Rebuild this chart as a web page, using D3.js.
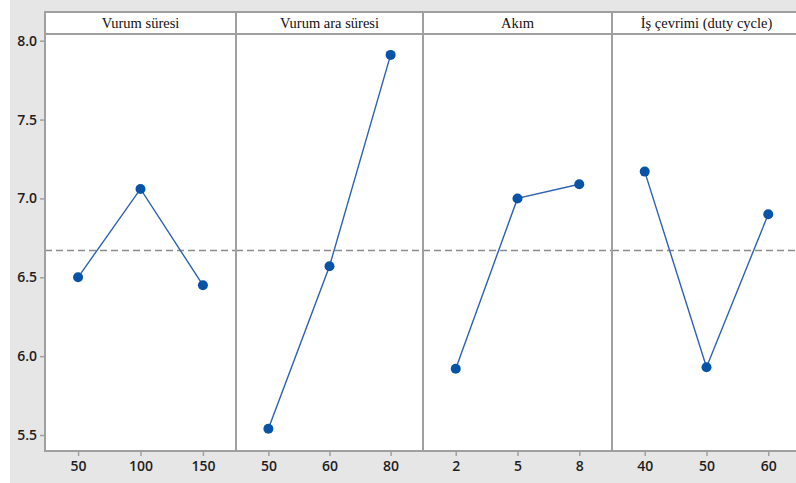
<!DOCTYPE html>
<html>
<head>
<meta charset="utf-8">
<script src="https://cdn.jsdelivr.net/npm/d3@7"></script>
<style>
  html, body { margin: 0; padding: 0; background: #ffffff; }
  svg { display: block; }
</style>
</head>
<body>
<svg id="chart" width="796" height="483"></svg>
<script>
// Main effects plot: mean response for each factor level
const factors = ["Vurum süresi", "Vurum ara süresi", "Akım", "İş çevrimi (duty cycle)"];
const levels = [
  ["50", "100", "150"],
  ["50", "60", "80"],
  ["2", "5", "8"],
  ["40", "50", "60"]
];
const means = [
  [6.50, 7.06, 6.45],
  [5.54, 6.57, 7.91],
  [5.92, 7.00, 7.09],
  [7.17, 5.93, 6.90]
];
const yTicks = [5.5, 6.0, 6.5, 7.0, 7.5, 8.0];

const svg = d3.select("#chart");
const W = 796, H = 483;

// gray canvas with a thin white strip on the left
svg.append("rect").attr("x", 0).attr("y", 0).attr("width", W).attr("height", H).attr("fill", "#ffffff");
svg.append("rect").attr("x", 10).attr("y", 0).attr("width", W - 10).attr("height", H).attr("fill", "#e6e6e6");

const plotLeft = 45, plotTopEdge = 12, headerH = 22, plotBottom = 451;
// panel edges along x
const edges = [45, 236, 423, 612, 801];
const stripBottom = plotTopEdge + headerH;

const y = d3.scaleLinear().domain([5.5, 8.0]).range([435, 40.7]);
const grandMean = d3.mean(means.flat());

const gray = "#a0a0a0";

// Y axis
const yAxis = svg.append("g").attr("transform", `translate(${plotLeft},0)`)
  .call(d3.axisLeft(y).tickValues(yTicks).tickFormat(d3.format(".1f")).tickSize(5).tickPadding(3));
yAxis.select(".domain").remove();
yAxis.selectAll("line").attr("stroke", gray).attr("stroke-width", 1.5);
yAxis.selectAll("text").attr("font-family", "'Open Sans', sans-serif").attr("font-size", 14)
  .attr("fill", "#1e1e1e").attr("font-weight", 600);

factors.forEach((name, i) => {
  const x0 = edges[i], x1 = edges[i + 1];
  const panelW = x1 - x0;
  const g = svg.append("g");

  // panel area
  g.append("rect").attr("x", x0).attr("y", plotTopEdge).attr("width", panelW).attr("height", plotBottom - plotTopEdge)
    .attr("fill", "#ffffff");

  const x = d3.scalePoint().domain(levels[i]).range([x0, x1]).padding(0.53);

  // grand mean reference line
  g.append("line").attr("x1", x0).attr("x2", x1)
    .attr("y1", y(grandMean)).attr("y2", y(grandMean))
    .attr("stroke", "#8c8c8c").attr("stroke-width", 1.5).attr("stroke-dasharray", "7,4");

  // x axis ticks
  const xa = g.append("g").attr("transform", `translate(0,${plotBottom})`)
    .call(d3.axisBottom(x).tickSize(5).tickPadding(5));
  xa.select(".domain").remove();
  xa.selectAll("line").attr("stroke", gray).attr("stroke-width", 1.5);
  xa.selectAll("text").attr("font-family", "'Open Sans', sans-serif").attr("font-size", 14)
    .attr("fill", "#1e1e1e").attr("font-weight", 600);

  // mean line and points
  const pts = levels[i].map((l, k) => [x(l), y(means[i][k])]);
  g.append("path").attr("d", d3.line()(pts)).attr("fill", "none")
    .attr("stroke", "#2c62b4").attr("stroke-width", 1.4);
  g.selectAll("circle").data(pts).join("circle")
    .attr("cx", d => d[0]).attr("cy", d => d[1]).attr("r", 5)
    .attr("fill", "#0753a8");

  // header strip
  g.append("line").attr("x1", x0).attr("x2", x1).attr("y1", stripBottom).attr("y2", stripBottom)
    .attr("stroke", gray).attr("stroke-width", 2);
  g.append("text").attr("x", (x0 + x1) / 2).attr("y", plotTopEdge + 15.5)
    .attr("text-anchor", "middle").attr("font-family", "'Liberation Serif', 'Times New Roman', serif")
    .attr("font-size", 14.5).attr("fill", "#111").text(name);

  // panel frame
  g.append("rect").attr("x", x0).attr("y", plotTopEdge).attr("width", panelW).attr("height", plotBottom - plotTopEdge)
    .attr("fill", "none").attr("stroke", gray).attr("stroke-width", 2);
});
</script>
</body>
</html>
